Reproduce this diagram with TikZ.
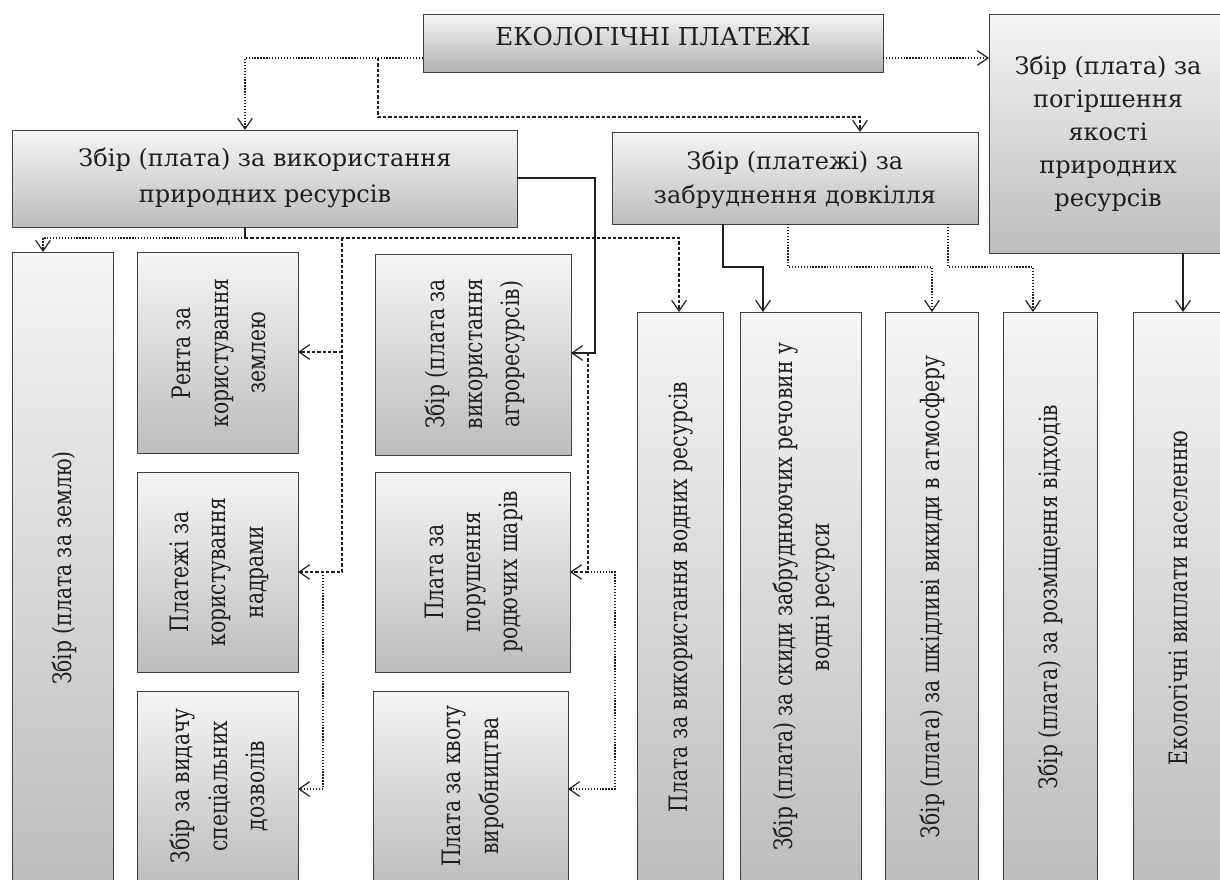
\documentclass[tikz,border=0pt]{standalone}
\usepackage{fontspec}
\setmainfont{DejaVu Serif}
\usetikzlibrary{arrows.meta}
\newcommand\pbox[6]{\node[box,#6,minimum width={(#4-#2)*0.75pt},minimum height={(#5-#3)*0.75pt}] (#1) at ({(#2+#4)/2},{(#3+#5)/2}) {};}
\begin{document}
\begin{tikzpicture}[x=0.75pt,y=-0.75pt,
  box/.style={draw=black!75, line width=0.75pt, top color=gray!8, bottom color=gray!52, inner sep=0pt, outer sep=0pt},
  htext/.style={font={\rmfamily\fontsize{18}{27.5}\selectfont}, align=center, text=black!88, inner sep=0pt},
  vtext/.style={font={\rmfamily\fontsize{19}{28}\selectfont}, align=center, text=black!88, inner sep=0pt, rotate=90, xscale=0.8},
  conn/.style={line width=1pt, draw=black!88, -{Straight Barb[length=8pt,width=11pt,line width=0.9pt]}},
  lnk/.style={line width=1pt, draw=black!88},
  cdot/.style={dash pattern=on 1pt off 1.2pt},
  cdash/.style={dash pattern=on 2.5pt off 1.5pt}]
\useasboundingbox (0,0) rectangle (1220,879);
% boxes
\pbox{T}{423}{14}{883}{72}{bottom color=gray!60}
\pbox{R}{989}{14}{1224}{253}{}
\pbox{L}{12}{130}{517}{227}{}
\pbox{M}{612}{132}{978}{224}{}
\pbox{land}{12}{252}{113}{884}{}
\pbox{renta}{137}{252}{298}{453}{}
\pbox{nadra}{137}{472}{298}{672}{}
\pbox{dozv}{137}{691}{298}{884}{}
\pbox{agro}{375}{254}{571}{455}{}
\pbox{porush}{375}{472}{570}{672}{}
\pbox{kvota}{373}{691}{568}{884}{}
\pbox{water}{637}{312}{723}{884}{}
\pbox{skydy}{740}{312}{861}{884}{}
\pbox{atm}{885}{312}{978}{884}{}
\pbox{vidh}{1003}{312}{1097}{884}{}
\pbox{vypl}{1133}{312}{1224}{884}{}
% junctions
\coordinate (j1) at (378,58);
\coordinate (j2) at (245,238);
\coordinate (j3) at (342,238);
\coordinate (j4) at (342,352);
\coordinate (j5) at (323,572);
\coordinate (j6) at (595,178);
\coordinate (j7) at (588,353);
\coordinate (j8) at (588,572);
% connectors
\draw[conn,cdot] (T.west |- j1) -| (L.north -| 245,0);
\draw[conn,cdash] (j1) |- (860,117) -- (M.north -| 860,0);
\draw[conn,cdot] (T.east |- j1) -- (R.west |- j1);
\draw[lnk] (L.south -| j2) -- (j2);
\draw[conn,cdot] (j2) -| (land.north -| 43,0);
\draw[conn,cdash] (j2) -| (water.north -| 679,0);
\draw[conn,cdash] (j3) |- (nadra.east |- 0,572);
\draw[conn,cdash] (j4) -- (renta.east |- j4);
\draw[conn,cdot] (j5) |- (dozv.east |- 0,789);
\draw[conn] (L.east |- j6) -- (j6) |- (agro.east |- 0,353);
\draw[conn,cdash] (j7) |- (porush.east |- 0,572);
\draw[conn,cdot] (j8) -| (615,789) -- (kvota.east |- 0,789);
\draw[conn] (M.south -| 723,0) |- (763,267) -- (skydy.north -| 763,0);
\draw[conn,cdot] (M.south -| 788,0) |- (932,267) -- (atm.north -| 932,0);
\draw[conn,cdot] (M.south -| 948,0) |- (1033,267) -- (vidh.north -| 1033,0);
\draw[conn] (R.south -| 1183,0) -- (vypl.north -| 1183,0);
% texts
\node[htext, font={\rmfamily\fontsize{18.5}{27.5}\selectfont}] (Tt) at (653,37) {ЕКОЛОГІЧНІ ПЛАТЕЖІ};
\node[htext, font={\rmfamily\fontsize{18}{24.75}\selectfont}] (Rt) at (1108,134) {Збір (плата) за\\погіршення\\якості\\природних\\ресурсів};
\node[htext] (Lt) at (265,178) {Збір (плата) за використання\\природних ресурсів};
\node[htext, font={\rmfamily\fontsize{18}{25.5}\selectfont}] (Mt) at (795,180) {Збір (платежі) за\\забруднення довкілля};
\node[vtext] (landt) at (64,568) {Збір (плата за землю)};
\node[vtext] (rentat) at (219,353) {Рента за\\користування\\землею};
\node[vtext] (nadrat) at (219,572) {Платежі за\\користування\\надрами};
\node[vtext] (dozvt) at (219,786) {Збір за видачу\\спеціальних\\дозволів};
\node[vtext] (agrot) at (475,354) {Збір (плата за\\використання\\агроресурсів)};
\node[vtext] (porusht) at (474,572) {Плата за\\порушення\\родючих шарів};
\node[vtext] (kvotat) at (473,786) {Плата за квоту\\виробництва};
\node[vtext] (watert) at (681,597) {Плата за використання водних ресурсів};
\node[vtext] (skydyt) at (804,597) {Збір (плата) за скиди забруднюючих речовин у\\водні ресурси};
\node[vtext] (atmt) at (932,597) {Збір (плата) за шкідливі викиди в атмосферу};
\node[vtext] (vidht) at (1050,597) {Збір (плата) за розміщення відходів};
\node[vtext] (vyplt) at (1178,598) {Екологічні виплати населенню};
\end{tikzpicture}
\end{document}
